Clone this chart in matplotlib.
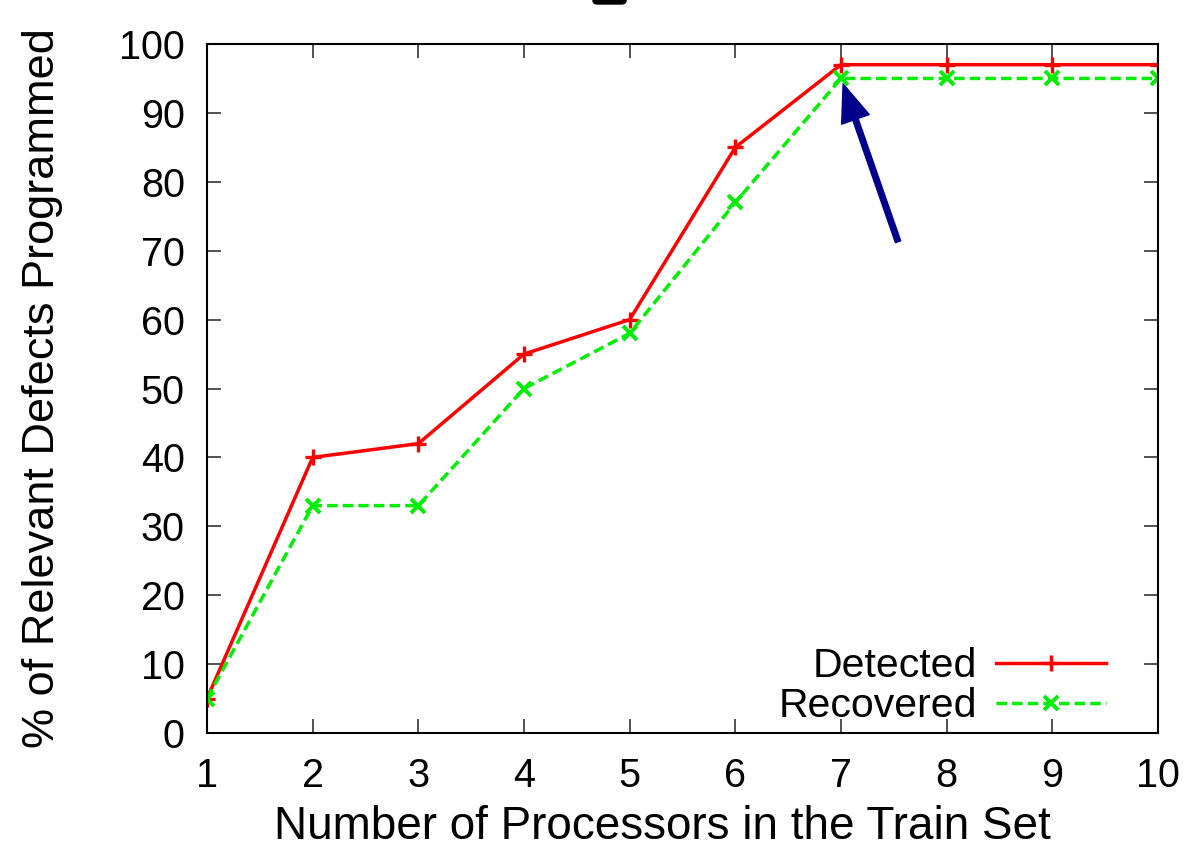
import matplotlib
matplotlib.use("Agg")
import matplotlib.pyplot as plt
from matplotlib.patches import FancyBboxPatch

# data
processors = [1, 2, 3, 4, 5, 6, 7, 8, 9, 10]
detected = [5, 40, 42, 55, 60, 85, 97, 97, 97, 97]
recovered = [5, 33, 33, 50, 58, 77, 95, 95, 95, 95]
y_ticks = [0, 10, 20, 30, 40, 50, 60, 70, 80, 90, 100]

plt.rcParams['font.family'] = ['Liberation Sans', 'DejaVu Sans']

fig = plt.figure(figsize=(11.87, 8.52), dpi=100)
ax = fig.add_axes([207 / 1187, 1 - 733 / 852, 951 / 1187, 689 / 852])

ax.plot(processors, detected, color='#ff0000', lw=2.5, marker='+', ms=11,
        mew=2.4, label='Detected')
ax.plot(processors, recovered, color='#00ee00', lw=2.5, ls=(0, (3, 1.5)),
        marker='x', ms=10, mew=2.8, label='Recovered')

# arrow pointing at the saturation point
ax.annotate('', xy=(7.02, 94.2), xytext=(7.54, 71.3),
            arrowprops=dict(facecolor='#00008b', edgecolor='#00008b',
                            width=4, headwidth=21, headlength=27, shrink=0))

ax.set_xlim(1, 10)
ax.set_ylim(0, 100)
ax.set_xticks(processors)
ax.set_yticks(y_ticks)
ax.tick_params(direction='in', length=10, width=1.2, labelsize=28.5,
               top=True, right=True, color='#333333')
ax.tick_params(axis='x', pad=17)
ax.tick_params(axis='y', pad=16)
for s in ax.spines.values():
    s.set_linewidth(1.5)

ax.set_xlabel('Number of Processors in the Train Set', fontsize=33)
ax.xaxis.set_label_coords((662 - 207) / 951, -0.105)
ax.set_ylabel('% of Relevant Defects Programmed', fontsize=32.5, labelpad=40)

ax.legend(loc='lower right', frameon=False, fontsize=29.5, markerfirst=False,
          handlelength=2.7, handletextpad=0.45, labelspacing=0.05,
          borderaxespad=0.3, bbox_to_anchor=(0.976, -0.03))

# small clipped mark at the top edge of the original image
fig.patches.append(FancyBboxPatch((593 / 1187, 1 - 4 / 852), 33 / 1187, 10 / 852,
                                  boxstyle='round,pad=0,rounding_size=0.004',
                                  transform=fig.transFigure, color='black'))

plt.savefig('out.png', dpi=100)
